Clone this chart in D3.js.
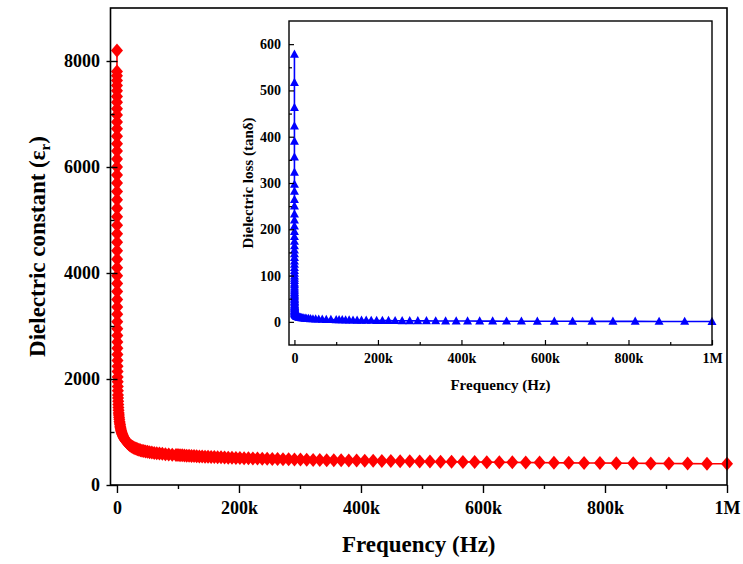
<!DOCTYPE html>
<html><head><meta charset="utf-8">
<script src="https://cdn.jsdelivr.net/npm/d3@7/dist/d3.min.js"></script>
<style>
html,body{margin:0;padding:0;background:#fff;}
svg text{font-family:"Liberation Serif","Times New Roman",Times,serif;font-weight:bold;fill:#000;}
</style></head><body>
<svg id="c" width="743" height="564"></svg>
<script>
// ---------- main series: dielectric constant vs frequency (Hz) ----------
const freqMain = [
20,21.9,24.0,26.3,28.9,31.7,34.7,38.0,41.7,45.7,50.1,55.0,60.3,66.1,72.4,79.4,87.1,95.5,104.7,114.8,
125.9,138.0,151.4,166.0,182.0,199.5,218.8,239.9,263.0,288.4,316.2,346.7,380.2,416.9,457.1,501.2,549.5,602.6,660.7,724.4,
794.3,871.0,955.0,1047,1148,1259,1380,1514,1660,1820,1995,2188,2399,2630,2884,3162,3467,3802,4169,4571,
5012,5353,5717,6105,6520,6964,7438,7943,8483,9060,9676,10334,11036,11787,12589,13445,14359,15335,16378,17492,
18681,19951,21307,22756,24304,25957,27722,29607,31620,33770,36066,38519,41138,43935,46923,50114,53521,57161,61047,65199,
69632,74367,79424,84824,90592,96753,
100020,103410,106920,110550,114300,118180,122190,126340,130630,135060,139640,144380,149280,154340,159580,164990,170590,176380,182360,188550,
194950,201560,208400,215480,222790,230350,238160,246240,254600,263240,272170,281400,290950,300820,311030,321580,332490,343780,355440,367500,
379970,392860,406190,419980,434230,448960,464200,479950,496230,513070,530480,548480,567090,586330,606220,626790,648060,670050,692780,716290,
740590,765720,791700,818560,846330,875050,904740,935440,967180,1000000];
const epsMain = [
8200,7800,7720,7630,7540,7440,7330,7220,7100,6980,6850,6720,6580,6440,6300,6150,6000,5850,5700,5540,
5380,5220,5060,4900,4740,4580,4420,4260,4100,3950,3800,3650,3500,3360,3220,3080,2950,2820,2700,2580,
2460,2350,2240,2140,2040,1950,1860,1780,1700,1640,1580,1520,1460,1410,1360,1320,1280,1240,1200,1170,
1140,1110,1085,1060,1040,1020,1000,982,964,946,929,912,896,880,864,849,834,820,806,792,
778,765,752,740,728,716,705,694,684,674,665,656,648,640,633,626,619,612,606,600,
594,588,582,576,571,568,
565,562,559,557,554,551,548,546,543,540,537,535,532,529,527,524,522,519,516,514,
511,509,506,504,501,499,496,494,491,489,486,484,481,479,477,474,472,469,467,465,
462,460,458,456,453,451,449,447,444,442,440,438,436,433,431,429,427,425,423,421,
418,416,414,412,410,408,406,404,402,400];

// ---------- inset series: dielectric loss vs frequency (Hz) ----------
const freqInset = [
20,21.4,22.9,24.5,26.2,28.0,30.0,32.1,34.4,36.8,39.4,42.1,45.1,48.2,51.6,55.2,59.1,63.2,67.7,72.4,
77.5,82.9,88.7,94.9,101.6,108.7,116.3,124.5,133.2,142.5,152.5,163.2,174.6,186.9,200,214,229,245,262,281,
300,321,344,368,394,421,451,483,516,553,591,633,677,725,775,830,888,950,
1000,1145,1311,1501,1719,1968,2254,2581,2955,3384,3875,4437,5081,5818,6661,7627,8734,10000,11450,13110,
15010,17190,19680,22540,25810,29550,33840,38750,44370,50810,58180,66610,76270,87340,
100000,107000,114500,122500,131100,140300,150100,160600,171900,183900,196800,210600,225300,241100,258000,276100,295500,316200,338300,362000,
387400,414600,443600,474700,508000,543600,581700,622400,666100,712700,762700,816100,873300,934500,1000000];
const lossInset = [
578,517,463,423,390,356,323,297,282,264,250,233,220,207,195,184,174,164,155,147,
139,131,124,117,111,105,99,94,89,84,80,75,71,67,63,60,57,54,51,48,
45,43,41,38,36,34,33,31,29,28,26,25,24,23,22,21,20,19,
18.5,18,17.5,17,16.5,16,15.5,15,14.5,14,13.5,13,12.5,12,11.6,11.2,10.8,10.4,10,9.6,
9.2,8.8,8.4,8,7.6,7.2,6.9,6.6,6.3,6.0,5.7,5.4,5.1,4.8,
4.6,4.4,4.2,4.0,3.8,3.6,3.5,3.3,3.2,3.0,2.9,2.8,2.6,2.5,2.4,2.3,2.2,2.1,2.0,1.9,
1.8,1.7,1.6,1.5,1.4,1.4,1.3,1.2,1.2,1.1,1.0,1.0,0.9,0.9,0.8];

// ---------- ticks ----------
const xTicks = [0,200000,400000,600000,800000,1000000];
const xTickLabels = ["0","200k","400k","600k","800k","1M"];
const xMinor = [100000,300000,500000,700000,900000];
const yMainTicks = [0,2000,4000,6000,8000];
const yMainMinor = [1000,3000,5000,7000];
const yInsetTicks = [0,100,200,300,400,500,600];
const yInsetMinor = [50,150,250,350,450,550];

const svg = d3.select("#c");
svg.append("rect").attr("width",743).attr("height",564).attr("fill","#fff");

// ================= MAIN PLOT =================
const M = {l:110.5, r:727, t:8, b:485};
const x = d3.scaleLinear().domain([-10600,1000000]).range([M.l,M.r]);
const y = d3.scaleLinear().domain([0,9000]).range([M.b,M.t]);

const mainPts = freqMain.map((f,i)=>({f:f, v:epsMain[i]}));
const gMain = svg.append("g");
gMain.append("path").datum(mainPts)
  .attr("fill","none").attr("stroke","#ff0000").attr("stroke-width",1.6)
  .attr("d", d3.line().x(d=>x(d.f)).y(d=>y(d.v)));
gMain.selectAll("path.dia").data(mainPts).enter().append("path")
  .attr("class","dia")
  .attr("d","M0,-7L6,0L0,7L-6,0Z")
  .attr("fill","#ff0000")
  .attr("transform", d=>`translate(${x(d.f)},${y(d.v)})`);

// bottom axis (outward ticks)
const gxb = svg.append("g").attr("transform",`translate(0,${M.b})`)
  .call(d3.axisBottom(x).tickValues(xTicks).tickFormat((d,i)=>xTickLabels[i])
        .tickSizeInner(8).tickSizeOuter(0).tickPadding(8));
gxb.select(".domain").remove();
gxb.selectAll("line").attr("stroke","#000").attr("stroke-width",1.4);
gxb.selectAll("text").style("font-size","18px");
const gxbm = svg.append("g").attr("transform",`translate(0,${M.b})`)
  .call(d3.axisBottom(x).tickValues(xMinor).tickFormat("").tickSizeInner(4).tickSizeOuter(0));
gxbm.select(".domain").remove();
gxbm.selectAll("line").attr("stroke","#000").attr("stroke-width",1.4);

// left axis (crossing major ticks, inward minor)
const gyl = svg.append("g").attr("transform",`translate(${M.l},0)`)
  .call(d3.axisLeft(y).tickValues(yMainTicks).tickFormat(d3.format("d"))
        .tickSizeInner(0).tickSizeOuter(0).tickPadding(10.5));
gyl.select(".domain").remove();
gyl.selectAll("line").attr("x1",-4).attr("x2",7).attr("stroke","#000").attr("stroke-width",1.4);
gyl.selectAll("text").style("font-size","18px");
const gylm = svg.append("g").attr("transform",`translate(${M.l},0)`)
  .call(d3.axisLeft(y).tickValues(yMainMinor).tickFormat("").tickSizeInner(-4).tickSizeOuter(0));
gylm.select(".domain").remove();
gylm.selectAll("line").attr("stroke","#000").attr("stroke-width",1.4);

svg.append("rect").attr("x",M.l).attr("y",M.t).attr("width",M.r-M.l).attr("height",M.b-M.t)
  .attr("fill","none").attr("stroke","#000").attr("stroke-width",1.6);

svg.append("text").attr("x",(M.l+M.r)/2).attr("y",552).attr("text-anchor","middle")
  .style("font-size","23px").text("Frequency (Hz)");
const yt = svg.append("text").attr("transform",`translate(45,${(M.t+M.b)/2}) rotate(-90)`)
  .attr("text-anchor","middle").style("font-size","23px");
yt.append("tspan").text("Dielectric constant (ε");
yt.append("tspan").attr("dy",5).style("font-size","15px").text("r");
yt.append("tspan").attr("dy",-5).text(")");

// ================= INSET =================
const I = {l:289, r:712, t:21, b:345};
const xi = d3.scaleLinear().domain([-13000,1000000]).range([I.l,I.r]);
const yi = d3.scaleLinear().domain([-50,650]).range([I.b,I.t]);
svg.append("rect").attr("x",I.l).attr("y",I.t).attr("width",I.r-I.l).attr("height",I.b-I.t).attr("fill","#fff");

const insetPts = freqInset.map((f,i)=>({f:f, v:lossInset[i]}));
const gIn = svg.append("g");
gIn.append("path").datum(insetPts)
  .attr("fill","none").attr("stroke","#0000ff").attr("stroke-width",1.6)
  .attr("d", d3.line().x(d=>xi(d.f)).y(d=>yi(d.v)));
gIn.selectAll("path.tri").data(insetPts).enter().append("path")
  .attr("class","tri")
  .attr("d","M0,-4.8L4.5,3.4L-4.5,3.4Z")
  .attr("fill","#0000ff")
  .attr("transform", d=>`translate(${xi(d.f)},${yi(d.v)})`);

const gib = svg.append("g").attr("transform",`translate(0,${I.b})`)
  .call(d3.axisBottom(xi).tickValues(xTicks).tickFormat((d,i)=>xTickLabels[i])
        .tickSizeInner(-5).tickSizeOuter(0).tickPadding(8));
gib.select(".domain").remove();
gib.selectAll("line").attr("stroke","#000").attr("stroke-width",1.2);
gib.selectAll("text").style("font-size","14px");
const gibm = svg.append("g").attr("transform",`translate(0,${I.b})`)
  .call(d3.axisBottom(xi).tickValues(xMinor).tickFormat("").tickSizeInner(-3).tickSizeOuter(0));
gibm.select(".domain").remove();
gibm.selectAll("line").attr("stroke","#000").attr("stroke-width",1.2);

const gil = svg.append("g").attr("transform",`translate(${I.l},0)`)
  .call(d3.axisLeft(yi).tickValues(yInsetTicks).tickFormat(d3.format("d"))
        .tickSizeInner(-5).tickSizeOuter(0).tickPadding(8));
gil.select(".domain").remove();
gil.selectAll("line").attr("stroke","#000").attr("stroke-width",1.2);
gil.selectAll("text").style("font-size","14px");
const gilm = svg.append("g").attr("transform",`translate(${I.l},0)`)
  .call(d3.axisLeft(yi).tickValues(yInsetMinor).tickFormat("").tickSizeInner(-3).tickSizeOuter(0));
gilm.select(".domain").remove();
gilm.selectAll("line").attr("stroke","#000").attr("stroke-width",1.2);

svg.append("rect").attr("x",I.l).attr("y",I.t).attr("width",I.r-I.l).attr("height",I.b-I.t)
  .attr("fill","none").attr("stroke","#000").attr("stroke-width",1.4);

svg.append("text").attr("x",(I.l+I.r)/2).attr("y",390).attr("text-anchor","middle")
  .style("font-size","15px").text("Frequency (Hz)");
svg.append("text").attr("transform",`translate(253,${(I.t+I.b)/2}) rotate(-90)`)
  .attr("text-anchor","middle").style("font-size","15px").text("Dielectric loss (tanδ)");
</script>
</body></html>
